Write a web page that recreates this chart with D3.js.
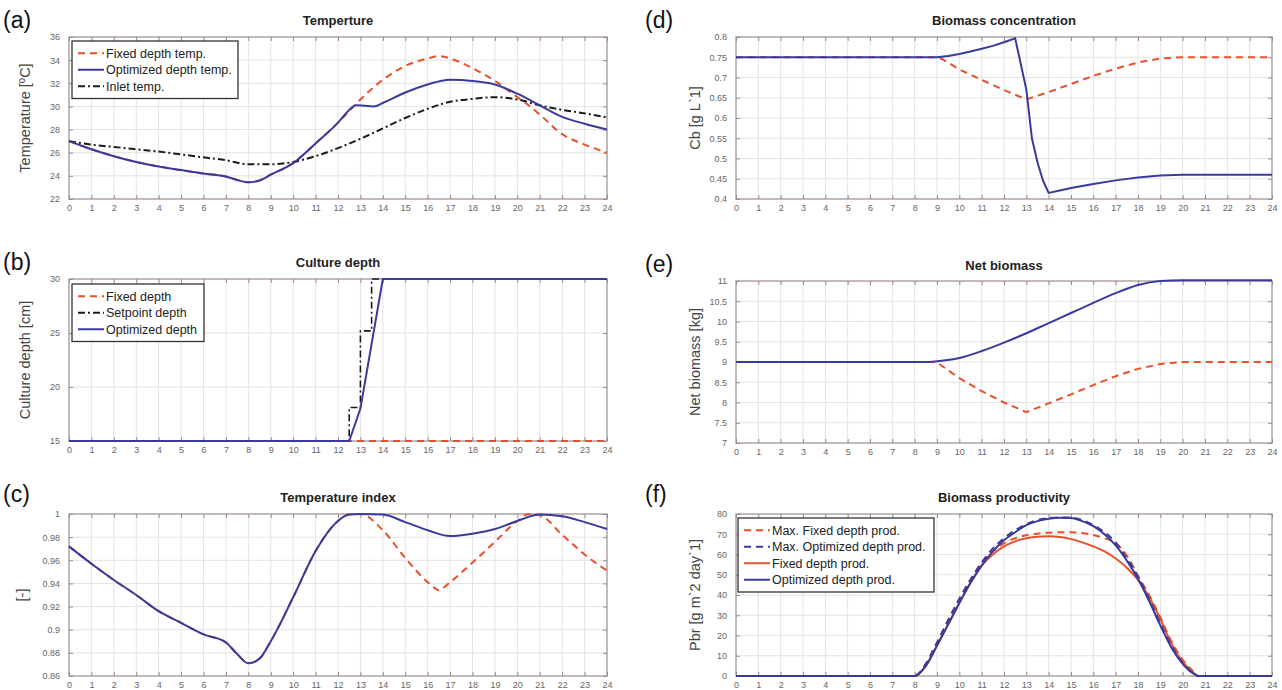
<!DOCTYPE html>
<html><head><meta charset="utf-8">
<script src="https://cdn.jsdelivr.net/npm/d3@7/dist/d3.min.js"></script>
<style>body{margin:0;background:#fff}svg{display:block;font-family:"Liberation Sans",Arial,sans-serif}</style>
</head><body>
<svg id="c" width="1282" height="690"></svg>
<script>
// ---------- DATA ----------
const hourTicks = d3.range(0, 25);

// (a) Temperature
const aOptX = [0,1,2,3,4,5,6,7,7.5,8,8.5,9,10,11,12,12.5,12.8,13.2,13.6,14,15,16,17,18,19,20,21,22,23,24];
const aOptY = [27,26.3,25.7,25.2,24.8,24.5,24.2,23.95,23.65,23.45,23.6,24.1,25.1,26.8,28.6,29.7,30.1,30.05,30.0,30.3,31.2,31.9,32.3,32.2,31.9,31.1,30.1,29.1,28.5,28.0];
const aFixX = [0,1,2,3,4,5,6,7,7.5,8,8.5,9,10,11,12,12.5,13,14,15,16,16.5,17,18,19,20,20.5,21,22,23,24];
const aFixY = [27,26.3,25.7,25.2,24.8,24.5,24.2,23.95,23.65,23.45,23.6,24.1,25.1,26.8,28.6,29.6,30.6,32.3,33.5,34.15,34.35,34.15,33.3,32.2,30.8,30.1,29.3,27.6,26.7,26.0];
const aInX = [0,1,2,3,4,5,6,7,8,9,10,11,12,13,14,15,16,17,18,19,20,21,22,23,24];
const aInY = [27.0,26.7,26.5,26.3,26.1,25.85,25.6,25.35,25.0,25.0,25.2,25.7,26.4,27.2,28.1,29.0,29.8,30.4,30.65,30.8,30.6,30.1,29.7,29.4,29.05];

// (b) Culture depth
const bFixX = [0,24];
const bFixY = [15,15];
const bSetX = [0,12.5,12.5,13,13,13.5,13.5,24];
const bSetY = [15,15,18.1,18.1,25.2,25.2,30,30];
const bOptX = [0,12.5,13,14,24];
const bOptY = [15,15,18,30,30];

// (c) Temperature index
const cOptX = [0,1,2,3,4,5,6,7,7.5,8,8.5,9,10,11,12,12.5,13,14,15,16,17,18,19,20,21,22,23,24];
const cOptY = [0.972,0.957,0.943,0.930,0.916,0.906,0.896,0.889,0.879,0.871,0.875,0.890,0.928,0.968,0.994,0.9995,1.0,0.9995,0.993,0.986,0.981,0.983,0.987,0.994,0.9995,0.998,0.993,0.987];
const cFixX = [0,1,2,3,4,5,6,7,7.5,8,8.5,9,10,11,12,12.5,13,14,15,16,16.35,16.5,16.65,17,18,19,20,20.5,21,22,23,24];
const cFixY = [0.972,0.957,0.943,0.930,0.916,0.906,0.896,0.889,0.879,0.871,0.875,0.890,0.928,0.968,0.994,0.9995,1.0,0.986,0.962,0.941,0.9355,0.934,0.9355,0.941,0.958,0.976,0.994,1.0,0.999,0.982,0.965,0.951];

// (d) Biomass concentration
const dOptX = [0,9,9.5,10,10.5,11,11.5,12,12.5,13,13.25,13.5,13.75,14,14.5,15,16,17,18,19,20,24];
const dOptY = [0.75,0.75,0.753,0.758,0.764,0.771,0.778,0.787,0.797,0.67,0.55,0.49,0.445,0.415,0.421,0.427,0.437,0.446,0.453,0.458,0.46,0.46];
const dFixX = [0,9,9.25,10,11,12,13,13.5,14,15,16,17,18,19,20,24];
const dFixY = [0.75,0.75,0.745,0.72,0.694,0.669,0.646,0.655,0.664,0.684,0.704,0.722,0.737,0.747,0.75,0.75];

// (e) Net biomass
const eOptX = [0,8.5,9,10,11,12,13,14,15,16,17,18,19,20,24];
const eOptY = [9.0,9.0,9.02,9.1,9.27,9.48,9.71,9.96,10.21,10.46,10.7,10.9,11.0,11.02,11.02];
const eFixX = [0,9,9.1,10,11,12,13,14,15,16,17,18,19,20,24];
const eFixY = [9.0,9.0,8.95,8.6,8.28,8.0,7.76,7.98,8.2,8.43,8.65,8.83,8.95,9.0,9.0];

// (f) Biomass productivity
const fX = [0,8,8.5,9,9.5,10,10.5,11,11.5,12,12.5,13,13.5,14,14.5,15,15.5,16,16.5,17,17.5,18,18.5,19,19.5,20,20.5,20.7,24];
const fOptY    = [0,0,5,15,25.5,36,46,54.5,61.5,67,71,74.5,76.5,77.7,78.2,78,76.5,74,70,64.5,57,48,37,25,14,6,1,0,0];
const fMaxOptY = [0,0,6,16.5,27.5,38,47.5,56,63,68,72,75,77,78,78.3,78.2,77,74.5,71,66,58,49,38,26,15,6.5,1.2,0,0];
const fFixY    = [0,0,5,15,25.5,36,46,54.5,60,64,66.5,68,68.8,69,68.6,67.6,66,64,61.5,58,53.5,47.5,39,28,16,7,1.5,0,0];
const fMaxFixY = [0,0,6,16.5,27.5,38,47.5,56,61.5,65.5,68,69.5,70.3,70.8,71,71,70.6,69.6,68,65.5,59.5,49.5,40,29,17,8,2,0,0];

// ---------- STYLE ----------
const RED = "#e8502c", BLUE = "#3a3a9e", BLK = "#1a1a1a";
const svg = d3.select("#c");

function zip(xs, ys){ return xs.map((x,i)=>[x, ys[i]]); }

function panel(o){
  const x = d3.scaleLinear().domain([0,24]).range([o.x0, o.x1]);
  const y = d3.scaleLinear().domain(o.yDomain).range([o.y1, o.y0]);
  const g = svg.append("g");
  g.append("g").selectAll("line").data(hourTicks.slice(1,-1)).join("line")
    .attr("x1", d=>x(d)).attr("x2", d=>x(d)).attr("y1", o.y0).attr("y2", o.y1)
    .attr("stroke", "#e3e3e3").attr("stroke-width", 1);
  g.append("g").selectAll("line").data(o.yTicks.slice(1,-1)).join("line")
    .attr("x1", o.x0).attr("x2", o.x1).attr("y1", d=>y(d)).attr("y2", d=>y(d))
    .attr("stroke", "#e3e3e3").attr("stroke-width", 1);
  const xa = d3.axisBottom(x).tickValues(hourTicks).tickSize(-4).tickPadding(6).tickFormat(d3.format("d"));
  const xt = d3.axisTop(x).tickValues(hourTicks).tickSize(-4).tickFormat("");
  const ya = d3.axisLeft(y).tickValues(o.yTicks).tickSize(-4).tickPadding(9).tickFormat(o.fmt);
  const yr = d3.axisRight(y).tickValues(o.yTicks).tickSize(-4).tickFormat("");
  const styleAxis = sel => {
    sel.select(".domain").remove();
    sel.selectAll(".tick line").attr("stroke", "#9a8c8c");
    sel.selectAll("text").attr("fill", "#666").attr("font-size", 9);
  };
  g.append("g").attr("transform", `translate(0,${o.y1})`).call(xa).call(styleAxis);
  g.append("g").attr("transform", `translate(0,${o.y0})`).call(xt).call(styleAxis);
  g.append("g").attr("transform", `translate(${o.x0},0)`).call(ya).call(styleAxis);
  g.append("g").attr("transform", `translate(${o.x1},0)`).call(yr).call(styleAxis);
  g.append("rect").attr("x", o.x0).attr("y", o.y0).attr("width", o.x1-o.x0).attr("height", o.y1-o.y0)
    .attr("fill", "none").attr("stroke", "#9a8c8c").attr("stroke-width", 1.2);
  const clipId = "clip"+o.letter;
  svg.append("clipPath").attr("id", clipId).append("rect")
    .attr("x", o.x0-2).attr("y", o.y0-2).attr("width", o.x1-o.x0+4).attr("height", o.y1-o.y0+4);
  const sg = g.append("g").attr("clip-path", `url(#${clipId})`);
  o.series.forEach(s=>{
    const line = d3.line().x(d=>x(d[0])).y(d=>y(d[1])).curve(s.curve || d3.curveMonotoneX);
    sg.append("path").datum(zip(s.xs, s.ys)).attr("d", line)
      .attr("fill", "none").attr("stroke", s.color).attr("stroke-width", s.w || 2)
      .attr("stroke-dasharray", s.dash || null);
  });
  g.append("text").attr("x", (o.x0+o.x1)/2).attr("y", o.titleY).attr("text-anchor", "middle")
    .attr("font-size", 13).attr("font-weight", "bold").attr("fill", "#222").text(o.title);
  g.append("text").attr("transform", `translate(${o.ylabX},${(o.y0+o.y1)/2}) rotate(-90)`)
    .attr("text-anchor", "middle").attr("font-size", 14.5).attr("fill", "#444").text(o.ylabel);
  g.append("text").attr("x", o.letX).attr("y", o.letY).attr("font-size", 23).attr("fill", "#111").text(`(${o.letter})`);
  if (o.legend){
    const L = o.legend;
    g.append("rect").attr("x", L.x).attr("y", L.y).attr("width", L.w).attr("height", L.items.length*L.rowH+8)
      .attr("fill", "#fff").attr("stroke", "#333").attr("stroke-width", 1.3);
    L.items.forEach((it,i)=>{
      const cy = L.y + 4 + L.rowH*(i+0.5);
      g.append("line").attr("x1", L.x+6).attr("x2", L.x+32).attr("y1", cy).attr("y2", cy)
        .attr("stroke", it.color).attr("stroke-width", 2).attr("stroke-dasharray", it.dash || null);
      g.append("text").attr("x", L.x+34).attr("y", cy+4.5).attr("font-size", 12.5).attr("fill", "#222").text(it.label);
    });
  }
}

const DASH = "7,5", DASHDOT = "7,3,2,3";
const LX0 = 69, LX1 = 607, RX0 = 736, RX1 = 1272;

panel({letter:"a", x0:LX0, x1:LX1, y0:37, y1:199, yDomain:[22,36], yTicks:d3.range(22,37,2), fmt:d3.format("d"),
  title:"Temperture", titleY:25, ylabel:"Temperature [ºC]", ylabX:30, letX:3, letY:28,
  series:[
    {xs:aInX, ys:aInY, color:BLK, dash:DASHDOT},
    {xs:aFixX, ys:aFixY, color:RED, dash:DASH},
    {xs:aOptX, ys:aOptY, color:BLUE}],
  legend:{x:72, y:41, w:166, rowH:16.5, items:[
    {label:"Fixed depth temp.", color:RED, dash:DASH},
    {label:"Optimized depth temp.", color:BLUE},
    {label:"Inlet temp.", color:BLK, dash:DASHDOT}]}
});

panel({letter:"b", x0:LX0, x1:LX1, y0:279, y1:441, yDomain:[15,30], yTicks:[15,20,25,30], fmt:d3.format("d"),
  title:"Culture depth", titleY:267, ylabel:"Culture depth [cm]", ylabX:30, letX:3, letY:270,
  series:[
    {xs:bFixX, ys:bFixY, color:RED, dash:DASH, curve:d3.curveLinear},
    {xs:bSetX, ys:bSetY, color:BLK, dash:DASHDOT, curve:d3.curveLinear, w:1.6},
    {xs:bOptX, ys:bOptY, color:BLUE, curve:d3.curveLinear}],
  legend:{x:72, y:284, w:132, rowH:16.5, items:[
    {label:"Fixed depth", color:RED, dash:DASH},
    {label:"Setpoint depth", color:BLK, dash:DASHDOT},
    {label:"Optimized depth", color:BLUE}]}
});

panel({letter:"c", x0:LX0, x1:LX1, y0:514, y1:676, yDomain:[0.86,1], yTicks:[0.86,0.88,0.9,0.92,0.94,0.96,0.98,1], fmt:d3.format(""),
  title:"Temperature index", titleY:502, ylabel:"[-]", ylabX:27, letX:3, letY:502,
  series:[
    {xs:cFixX, ys:cFixY, color:RED, dash:DASH},
    {xs:cOptX, ys:cOptY, color:BLUE}]
});

panel({letter:"d", x0:RX0, x1:RX1, y0:37, y1:199, yDomain:[0.4,0.8], yTicks:[0.4,0.45,0.5,0.55,0.6,0.65,0.7,0.75,0.8], fmt:d3.format(""),
  title:"Biomass concentration", titleY:25, ylabel:"Cb [g L`1]", ylabX:700, letX:645, letY:28,
  series:[
    {xs:dFixX, ys:dFixY, color:RED, dash:DASH, curve:d3.curveLinear},
    {xs:dOptX, ys:dOptY, color:BLUE, curve:d3.curveLinear}]
});

panel({letter:"e", x0:RX0, x1:RX1, y0:281, y1:443, yDomain:[7,11], yTicks:[7,7.5,8,8.5,9,9.5,10,10.5,11], fmt:d3.format(""),
  title:"Net biomass", titleY:270, ylabel:"Net biomass [kg]", ylabX:700, letX:645, letY:272,
  series:[
    {xs:eFixX, ys:eFixY, color:RED, dash:DASH, curve:d3.curveLinear},
    {xs:eOptX, ys:eOptY, color:BLUE}]
});

panel({letter:"f", x0:RX0, x1:RX1, y0:514, y1:676, yDomain:[0,80], yTicks:d3.range(0,81,10), fmt:d3.format("d"),
  title:"Biomass productivity", titleY:502, ylabel:"Pbr [g m`2 day`1]", ylabX:700, letX:645, letY:502,
  series:[
    {xs:fX, ys:fMaxFixY, color:RED, dash:DASH},
    {xs:fX, ys:fFixY, color:RED},
    {xs:fX, ys:fOptY, color:BLUE},
    {xs:fX, ys:fMaxOptY, color:BLUE, dash:DASH}],
  legend:{x:738, y:518, w:196, rowH:16.5, items:[
    {label:"Max. Fixed depth prod.", color:RED, dash:DASH},
    {label:"Max. Optimized depth prod.", color:BLUE, dash:DASH},
    {label:"Fixed depth prod.", color:RED},
    {label:"Optimized depth prod.", color:BLUE}]}
});
</script>
</body></html>
